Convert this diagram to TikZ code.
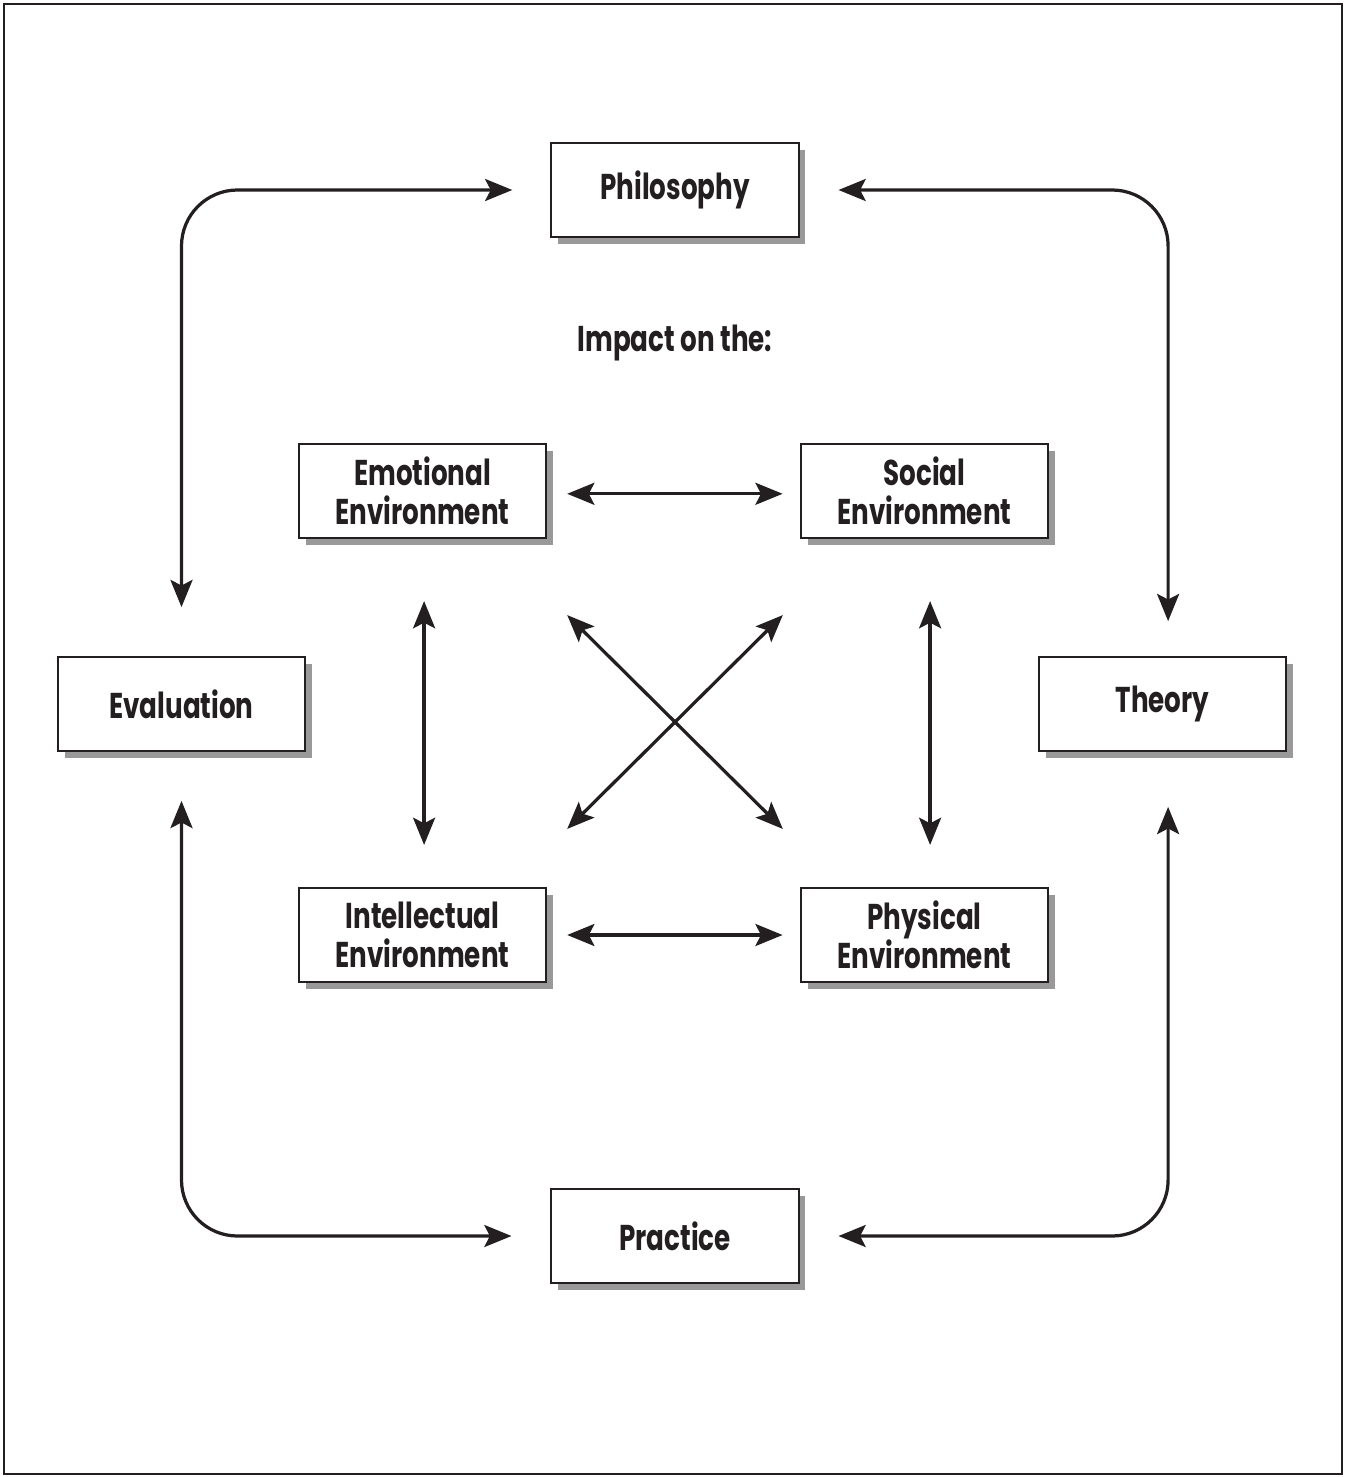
\documentclass[tikz,border=0pt]{standalone}
\usepackage{fontspec}
\usetikzlibrary{arrows.meta,shadows}
\newfontfamily\boxfont{Poppins}[FakeStretch=0.73]
\definecolor{ink}{HTML}{231F20}

\begin{document}
\begin{tikzpicture}[x=0.025cm,y=-0.025cm,
    box/.style={draw=ink,line width=1.5pt,fill=white,align=center,
        minimum width=6.18cm,minimum height=2.35cm,inner sep=0pt,
        font=\boxfont\bfseries\fontsize{25.5}{28}\selectfont,text=ink,
        drop shadow={shadow xshift=0.17cm,shadow yshift=-0.17cm,fill=black!40,opacity=1}},
    link/.style={draw=ink,line width=2.3pt,
        {Stealth[length=0.68cm,width=0.55cm,inset=0.14cm]}-{Stealth[length=0.68cm,width=0.55cm,inset=0.14cm]}},
    loopline/.style={link,rounded corners=1.4cm}]
    \useasboundingbox (0,0) rectangle (1346,1477);
    \draw[ink,line width=2.1pt] (4,4) rectangle (1342,1474);

    \node[box] (phil) at (675,190) {Philosophy};
    \node[box] (prac) at (675,1236) {Practice};
    \node[box] (eval) at (181.5,704) {Evaluation};
    \node[box] (theo) at (1162.5,704) {Theory};
    \node[box] (emo) at (422.5,491) {Emotional\\Environment};
    \node[box] (soc) at (924.5,491) {Social\\Environment};
    \node[box] (intel) at (422.5,935) {Intellectual\\Environment};
    \node[box] (phys) at (924.5,935) {Physical\\Environment};
    \node[font=\boxfont\bfseries\fontsize{25.5}{28}\selectfont,text=ink] (impact) at (675,343) {Impact on the:};

    % outer loop
    \path[loopline,shorten <=0.95cm,shorten >=1.22cm] (phil) -| (eval);
    \path[loopline,shorten <=0.97cm,shorten >=0.87cm] (phil) -| ([xshift=0.14cm]theo.north);
    \path[loopline,shorten <=0.97cm,shorten >=1.22cm] (prac) -| (eval);
    \path[loopline,shorten <=0.97cm,shorten >=1.37cm] (prac) -| ([xshift=0.14cm]theo.south);

    % inner square
    \path[link,shorten <=0.5cm,shorten >=0.43cm] ([yshift=-0.07cm]emo.east) -- ([yshift=-0.07cm]soc.west);
    \path[link,shorten <=0.5cm,shorten >=0.43cm] (intel) -- (phys);
    \path[link,shorten <=1.55cm,shorten >=1.05cm] ([xshift=0.04cm]emo.south) -- ([xshift=0.04cm]intel.north);
    \path[link,shorten <=1.55cm,shorten >=1.05cm] ([xshift=0.14cm]soc.south) -- ([xshift=0.14cm]phys.north);
    \path[link] ([shift={(20,76)}]emo.south east) -- ([shift={(-17,-58)}]phys.north west);
    \path[link] ([shift={(-17,76)}]soc.south west) -- ([shift={(20,-58)}]intel.north east);
\end{tikzpicture}
\end{document}
